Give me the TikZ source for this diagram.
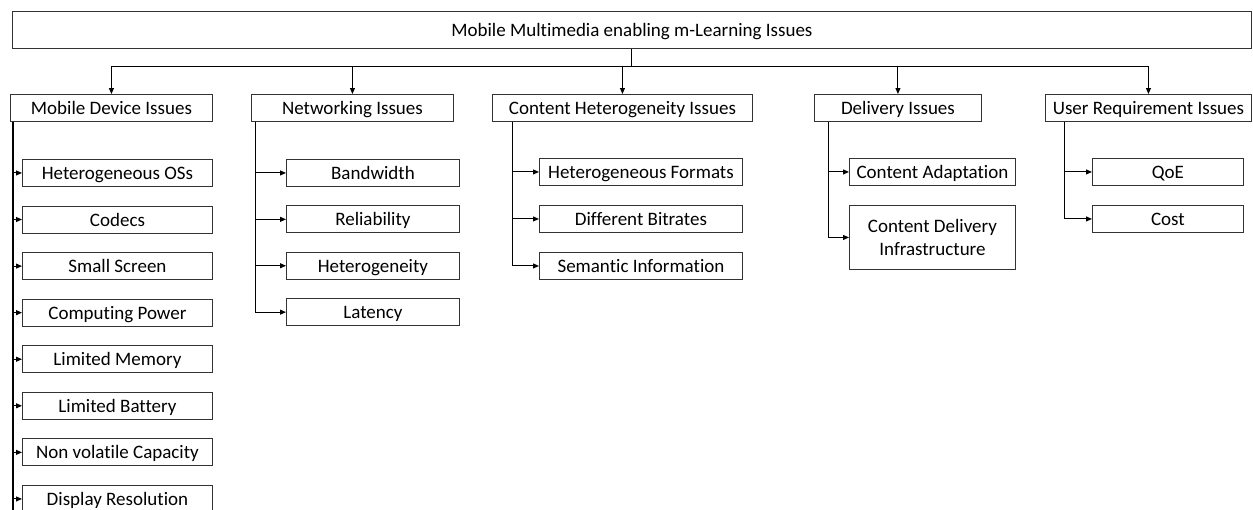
\documentclass[tikz,border=0pt]{standalone}
\usepackage{fontspec}
\setmainfont{Carlito}[Ligatures=NoCommon]
\usetikzlibrary{arrows.meta}
\begin{document}
\begin{tikzpicture}[x=1pt,y=-1pt,
  box/.style={draw=black!80,line width=0.9pt,inner sep=0pt,anchor=north west,align=center,font=\fontsize{19}{22}\selectfont},
  one/.style={box,text height=14.5pt,text depth=1.5pt},
  conn/.style={draw=black,line width=1pt,-{Triangle[length=6pt,width=5pt]}},
  plain/.style={draw=black,line width=1pt}]
\useasboundingbox (0,0) rectangle (1253,509);
% top
\node[one,minimum width=1239pt,minimum height=37pt] (top) at (12,11) {Mobile Multimedia enabling m-Learning Issues};
% level 1
\node[one,minimum width=202pt,minimum height=27pt] (md) at (10,94) {Mobile Device Issues};
\node[one,minimum width=202pt,minimum height=27pt] (net) at (251,94) {Networking Issues};
\node[one,minimum width=260pt,minimum height=27pt] (ch) at (492,94) {Content Heterogeneity Issues};
\node[one,minimum width=167pt,minimum height=27pt] (del) at (814,94) {Delivery Issues};
\node[one,minimum width=206pt,minimum height=27pt] (ur) at (1045,94) {User Requirement Issues};
% bus
\draw[plain] (top.south) -- ++(0,18) coordinate (bus);
\foreach \n in {md,net,ch,del,ur}{\draw[conn] (bus) -| (\n.north);}
% mobile device children
\foreach \t/\i in {Heterogeneous OSs/1,Codecs/2,Small Screen/3,Computing Power/4,Limited Memory/5,Limited Battery/6,Non volatile Capacity/7,Display Resolution/8}{
  \node[one,minimum width=190pt,minimum height=27pt] (md\i) at (22,{159+(\i-1)*46.57}) {\t};
}
\coordinate (mdT) at ([xshift=3pt]md.south west);
\draw[plain,line width=1.6pt] (mdT) -- ++(0,388);
\foreach \i in {1,...,8}{\draw[conn] (mdT) |- (md\i.west);}
% networking children
\foreach \t/\i in {Bandwidth/1,Reliability/2,Heterogeneity/3,Latency/4}{
  \node[one,minimum width=173pt,minimum height=27pt] (net\i) at (286,{159+(\i-1)*46.4}) {\t};
}
\coordinate (netT) at ([xshift=4pt]net.south west);
\foreach \i in {1,...,4}{\draw[conn] (netT) |- (net\i.west);}
% content heterogeneity children
\foreach \t/\i in {Heterogeneous Formats/1,Different Bitrates/2,Semantic Information/3}{
  \node[one,minimum width=203pt,minimum height=27pt] (ch\i) at (539,{158+(\i-1)*47}) {\t};
}
\coordinate (chT) at ([xshift=20pt]ch.south west);
\foreach \i in {1,...,3}{\draw[conn] (chT) |- (ch\i.west);}
% delivery children
\node[one,minimum width=166pt,minimum height=27pt] (del1) at (849,158) {Content Adaptation};
\node[box,minimum width=166pt,minimum height=64pt] (del2) at (849,205) {Content Delivery\\[1pt]Infrastructure};
\coordinate (delT) at ([xshift=14pt]del.south west);
\foreach \i in {1,2}{\draw[conn] (delT) |- (del\i.west);}
% user requirement children
\node[one,minimum width=151pt,minimum height=27pt] (ur1) at (1092,158) {QoE};
\node[one,minimum width=151pt,minimum height=27pt] (ur2) at (1092,205) {Cost};
\coordinate (urT) at ([xshift=19pt]ur.south west);
\foreach \i in {1,2}{\draw[conn] (urT) |- (ur\i.west);}
\end{tikzpicture}
\end{document}
